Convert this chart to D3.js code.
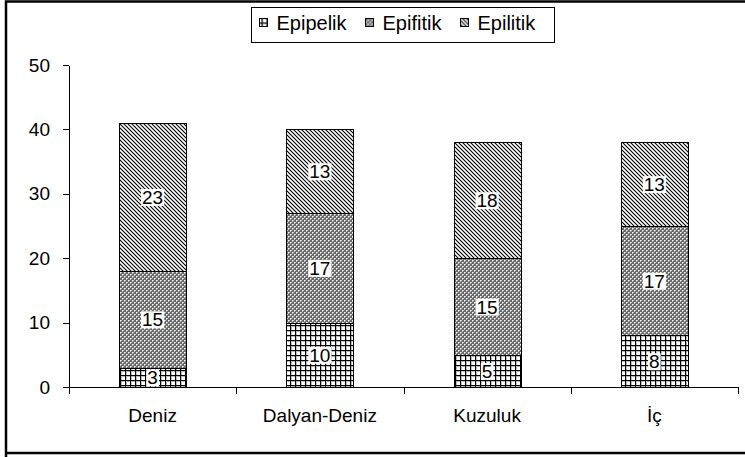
<!DOCTYPE html>
<meta charset="utf-8">
<style>
body { margin: 0; background: #fff; }
text { font-family: "Liberation Sans", Arial, sans-serif; fill: #000; }
.axis path, .axis line { stroke: #000; stroke-width: 1px; shape-rendering: crispEdges; }
.axis text { font-size: 19px; }
.lbl { font-size: 19px; }
</style>
<body>
<script src="https://d3js.org/d3.v7.min.js"></script>
<script>

var categories = ["Deniz", "Dalyan-Deniz", "Kuzuluk", "İç"];
var seriesNames = ["Epipelik", "Epifitik", "Epilitik"];
var epipelik = [3, 10, 5, 8];
var epifitik = [15, 17, 15, 17];
var epilitik = [23, 13, 18, 13];
var yTicks = [0, 10, 20, 30, 40, 50];

var width = 745, height = 457;
var margin = {left: 69, right: 7, top: 65, bottom: 70};

var svg = d3.select("body").append("svg")
    .attr("width", width)
    .attr("height", height);

// patterns
var defs = svg.append("defs");

var p1 = defs.append("pattern").attr("id", "pat0")
    .attr("patternUnits", "userSpaceOnUse").attr("width", 5).attr("height", 5);
p1.append("rect").attr("width", 5).attr("height", 5).attr("fill", "#fff");
p1.append("rect").attr("width", 5).attr("height", 1).attr("fill", "#000");
p1.append("rect").attr("width", 1).attr("height", 5).attr("fill", "#000");
p1.append("rect").attr("x", 1).attr("y", 1).attr("width", 4).attr("height", 1).attr("fill", "#bbb");
p1.append("rect").attr("x", 1).attr("y", 1).attr("width", 1).attr("height", 4).attr("fill", "#bbb");

var p2 = defs.append("pattern").attr("id", "pat1")
    .attr("patternUnits", "userSpaceOnUse").attr("width", 4).attr("height", 4);
p2.append("rect").attr("width", 4).attr("height", 4).attr("fill", "#6a6a6a");
[[0, 0, "#fff"], [2, 2, "#fff"], [1, 0, "#c0c0c0"], [0, 1, "#c0c0c0"],
 [3, 2, "#c0c0c0"], [2, 3, "#c0c0c0"]].forEach(function(p) {
  p2.append("rect").attr("x", p[0]).attr("y", p[1]).attr("width", 1).attr("height", 1).attr("fill", p[2]);
});

var p3 = defs.append("pattern").attr("id", "pat2")
    .attr("patternUnits", "userSpaceOnUse").attr("width", 4).attr("height", 4);
p3.append("rect").attr("width", 4).attr("height", 4).attr("fill", "#fff");
p3.append("path").attr("d", "M-1,-1L5,5M-1,3L1,5M3,-1L5,1").attr("stroke", "#000").attr("stroke-width", 1.1);

// outer frame
svg.append("path")
    .attr("d", "M6," + height + "V1.5H" + width + "M6,453H" + width)
    .attr("fill", "none").attr("stroke", "#000").attr("stroke-width", 2.5);

var y = d3.scaleLinear()
    .domain([0, 50])
    .range([height - margin.bottom, margin.top]);

var data = categories.map(function(c, i) {
  return {cat: c, Epipelik: epipelik[i], Epifitik: epifitik[i], Epilitik: epilitik[i]};
});
var stacked = d3.stack().keys(seriesNames)(data);

// axes
svg.append("g").attr("class", "axis")
    .attr("transform", "translate(" + margin.left + ",0)")
    .call(d3.axisLeft(y).tickValues(yTicks).tickSize(6).tickSizeOuter(0).tickPadding(13));

var xb = d3.scaleLinear().domain([0, categories.length]).range([margin.left, width - margin.right]);
var xa = svg.append("g").attr("class", "axis")
    .attr("transform", "translate(0," + y(0) + ")");
xa.append("path").attr("d", "M" + margin.left + ",0.5H" + (width - margin.right));
xa.selectAll("line").data(d3.range(categories.length + 1)).enter().append("line")
    .attr("x1", function(d) { return Math.round(xb(d)) + 0.5; })
    .attr("x2", function(d) { return Math.round(xb(d)) + 0.5; })
    .attr("y1", 0).attr("y2", 7);
xa.selectAll("text").data(categories).enter().append("text")
    .attr("x", function(d, i) { return (xb(i) + xb(i + 1)) / 2; })
    .attr("y", 35)
    .attr("text-anchor", "middle")
    .text(function(d) { return d; });

// bars
var bw = 67;
stacked.forEach(function(s, si) {
  var g = svg.append("g");
  g.selectAll("rect").data(s).enter().append("rect")
      .attr("x", function(d, i) { return Math.round(xb(i + 0.5) - bw / 2) + 0.5; })
      .attr("y", function(d) { return Math.round(y(d[1])) + 0.5; })
      .attr("width", bw)
      .attr("height", function(d) { return Math.round(y(d[0])) - Math.round(y(d[1])); })
      .attr("fill", "url(#pat" + si + ")")
      .attr("stroke", "#000").attr("stroke-width", 1);
  s.forEach(function(d, i) {
    var cx = xb(i + 0.5), cy = (y(d[0]) + y(d[1])) / 2;
    var t = svg.append("text").attr("class", "lbl")
        .attr("x", cx).attr("y", cy + 7)
        .attr("text-anchor", "middle")
        .text(d[1] - d[0]);
    var bb = t.node().getBBox();
    svg.insert("rect", function() { return t.node(); })
        .attr("x", bb.x - 1).attr("y", bb.y + 2)
        .attr("width", bb.width + 2).attr("height", bb.height - 4)
        .attr("fill", "#fff");
  });
});

// legend
var lg = svg.append("g").attr("transform", "translate(251.5,7.5)");
lg.append("rect").attr("width", 303).attr("height", 35)
    .attr("fill", "#fff").attr("stroke", "#000").attr("stroke-width", 1);
var lx = [8, 114, 209];
seriesNames.forEach(function(n, i) {
  lg.append("rect").attr("x", lx[i]).attr("y", 11).attr("width", 8).attr("height", 8)
      .attr("fill", "url(#pat" + i + ")").attr("stroke", "#000").attr("stroke-width", 1);
  lg.append("text").attr("x", lx[i] + 17).attr("y", 22.5)
      .style("font-size", "20px").text(n);
});

</script>
</body>
